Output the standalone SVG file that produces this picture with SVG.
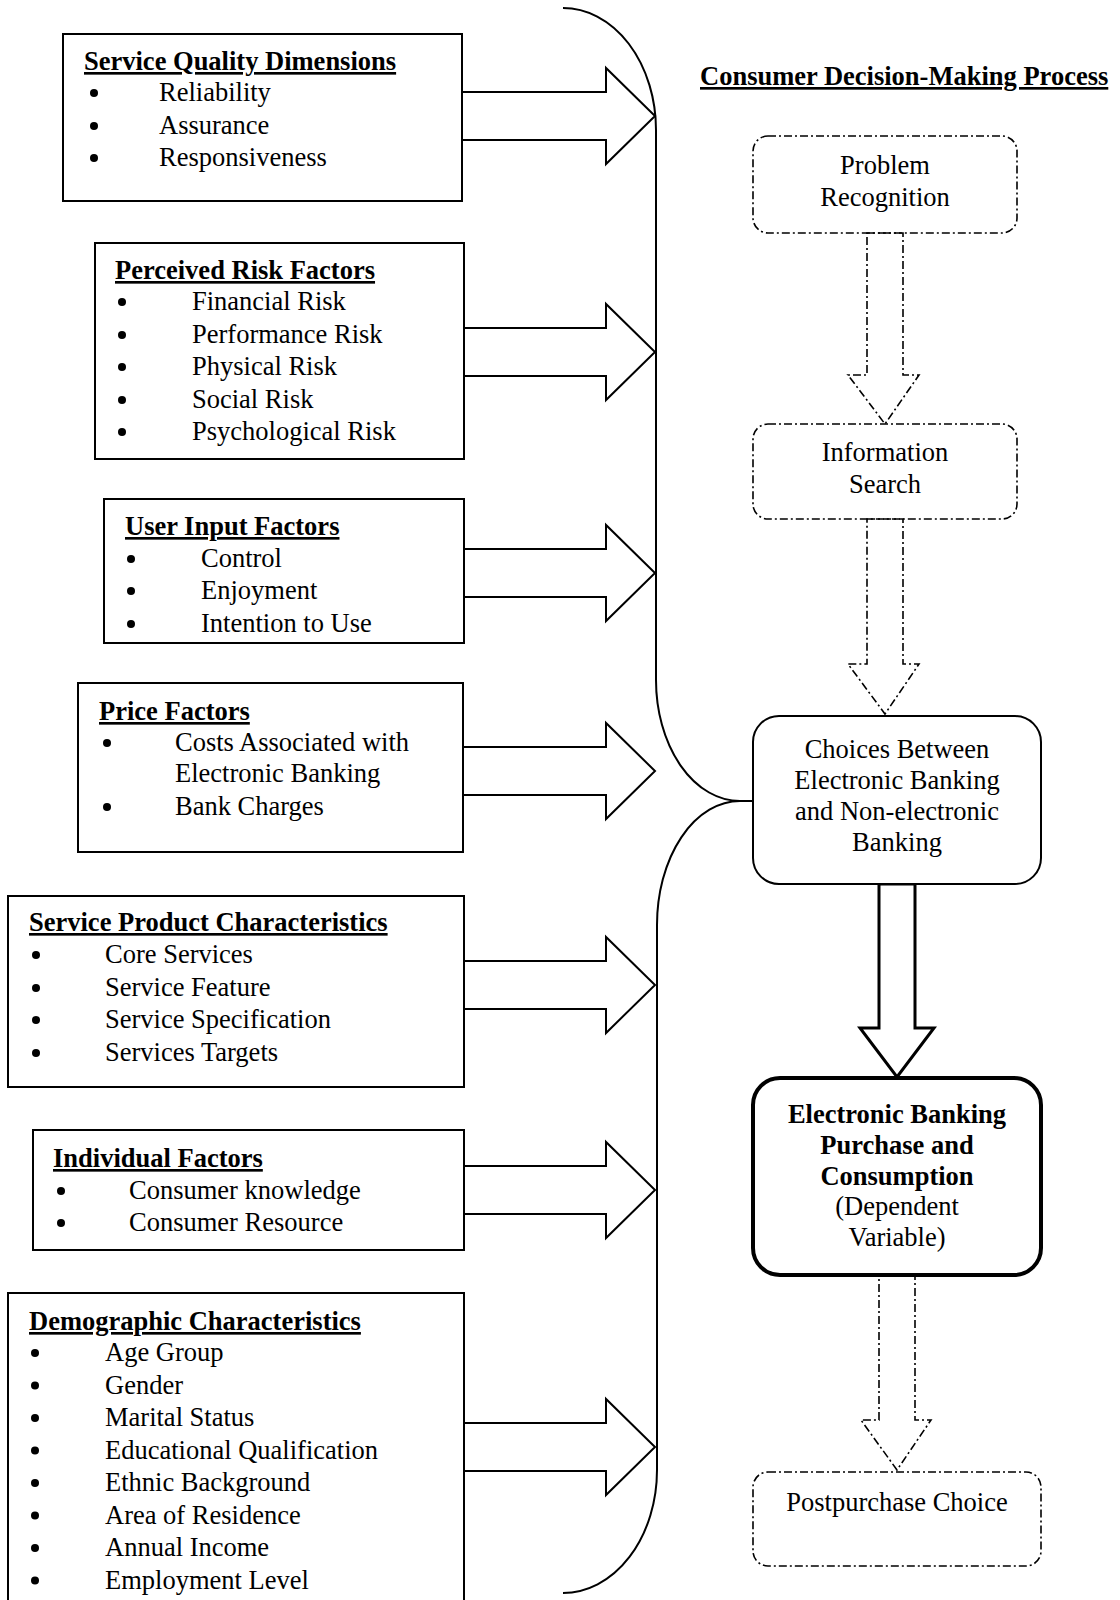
<svg xmlns="http://www.w3.org/2000/svg" width="1120" height="1600" viewBox="0 0 1120 1600">
<style>
.box{fill:#fff;stroke:#000;stroke-width:2}
.t{font-family:"Liberation Serif","Times New Roman",serif;font-size:26.5px;fill:#000}
.h{font-weight:bold;text-decoration:underline;text-decoration-thickness:2px;text-underline-offset:3px}
.b{font-weight:bold}
.c{text-anchor:middle}
.bul{fill:#000}
.arr{fill:#fff;stroke:#000;stroke-width:2}
.dd{fill:none;stroke:#000;stroke-width:1.6;stroke-dasharray:8 3 2 3}
.brk{fill:none;stroke:#000;stroke-width:2}
</style>
<rect width="1120" height="1600" fill="#fff"/>

<g id="connectors">
  <path class="brk" d="M563,8 A93,122 0 0 1 656,130 V680 A84,121 0 0 0 740,801 H753"/>
  <path class="brk" d="M740,801 A83,124 0 0 0 657,925 V1470 A94,123 0 0 1 563,1593"/>
  <path class="arr" d="M463,92 H606 V68 L655,116 L606,164 V140 H463"/>
  <path class="arr" d="M464,328 H606 V304 L655,352 L606,400 V376 H464"/>
  <path class="arr" d="M464,549 H606 V525 L655,573 L606,621 V597 H464"/>
  <path class="arr" d="M463,747 H606 V723 L655,771 L606,819 V795 H463"/>
  <path class="arr" d="M464,961 H606 V937 L655,985 L606,1033 V1009 H464"/>
  <path class="arr" d="M464,1166 H606 V1142 L655,1190 L606,1238 V1214 H464"/>
  <path class="arr" d="M464,1423 H606 V1399 L655,1447 L606,1495 V1471 H464"/>
  <path class="dd" d="M867,233 H903 V375 H919 L885,424 L848,375 H867 Z"/>
  <path class="dd" d="M867,519 H903 V664 H919 L885,714 L848,664 H867 Z"/>
  <path fill="#fff" stroke="#000" stroke-width="3" d="M879,884 H915 V1028 H934 L897,1077 L860,1028 H879 Z"/>
  <path class="dd" d="M879,1276 H915 V1420 H931 L897,1470 L861,1420 H879 Z"/>
</g>

<g id="service-quality">
  <rect class="box" x="63" y="34" width="399" height="167"/>
  <text class="t h" x="84" y="70">Service Quality Dimensions</text>
  <circle class="bul" cx="94" cy="93" r="4"/><text class="t" x="159" y="101">Reliability</text>
  <circle class="bul" cx="94" cy="126" r="4"/><text class="t" x="159" y="134">Assurance</text>
  <circle class="bul" cx="94" cy="158" r="4"/><text class="t" x="159" y="166">Responsiveness</text>
</g>

<g id="perceived-risk">
  <rect class="box" x="95" y="243" width="369" height="216"/>
  <text class="t h" x="115" y="279">Perceived Risk Factors</text>
  <circle class="bul" cx="122" cy="302" r="4"/><text class="t" x="192" y="310">Financial Risk</text>
  <circle class="bul" cx="122" cy="335" r="4"/><text class="t" x="192" y="343">Performance Risk</text>
  <circle class="bul" cx="122" cy="367" r="4"/><text class="t" x="192" y="375">Physical Risk</text>
  <circle class="bul" cx="122" cy="400" r="4"/><text class="t" x="192" y="408">Social Risk</text>
  <circle class="bul" cx="122" cy="432" r="4"/><text class="t" x="192" y="440">Psychological Risk</text>
</g>

<g id="user-input">
  <rect class="box" x="104" y="499" width="360" height="144"/>
  <text class="t h" x="125" y="535">User Input Factors</text>
  <circle class="bul" cx="131" cy="559" r="4"/><text class="t" x="201" y="567">Control</text>
  <circle class="bul" cx="131" cy="591" r="4"/><text class="t" x="201" y="599">Enjoyment</text>
  <circle class="bul" cx="131" cy="624" r="4"/><text class="t" x="201" y="632">Intention to Use</text>
</g>

<g id="price">
  <rect class="box" x="78" y="683" width="385" height="169"/>
  <text class="t h" x="99" y="720">Price Factors</text>
  <circle class="bul" cx="107" cy="743" r="4"/><text class="t" x="175" y="751">Costs Associated with</text>
  <text class="t" x="175" y="782">Electronic Banking</text>
  <circle class="bul" cx="107" cy="807" r="4"/><text class="t" x="175" y="815">Bank Charges</text>
</g>

<g id="service-product">
  <rect class="box" x="8" y="896" width="456" height="191"/>
  <text class="t h" x="29" y="931">Service Product Characteristics</text>
  <circle class="bul" cx="36" cy="955" r="4"/><text class="t" x="105" y="963">Core Services</text>
  <circle class="bul" cx="36" cy="988" r="4"/><text class="t" x="105" y="996">Service Feature</text>
  <circle class="bul" cx="36" cy="1020" r="4"/><text class="t" x="105" y="1028">Service Specification</text>
  <circle class="bul" cx="36" cy="1053" r="4"/><text class="t" x="105" y="1061">Services Targets</text>
</g>

<g id="individual">
  <rect class="box" x="33" y="1130" width="431" height="120"/>
  <text class="t h" x="53" y="1167">Individual Factors</text>
  <circle class="bul" cx="61" cy="1191" r="4"/><text class="t" x="129" y="1199">Consumer knowledge</text>
  <circle class="bul" cx="61" cy="1223" r="4"/><text class="t" x="129" y="1231">Consumer Resource</text>
</g>

<g id="demographic">
  <rect class="box" x="8" y="1293" width="456" height="330"/>
  <text class="t h" x="29" y="1330">Demographic Characteristics</text>
  <circle class="bul" cx="35" cy="1353" r="4"/><text class="t" x="105" y="1361">Age Group</text>
  <circle class="bul" cx="35" cy="1385.5" r="4"/><text class="t" x="105" y="1393.5">Gender</text>
  <circle class="bul" cx="35" cy="1418" r="4"/><text class="t" x="105" y="1426">Marital Status</text>
  <circle class="bul" cx="35" cy="1450.5" r="4"/><text class="t" x="105" y="1458.5">Educational Qualification</text>
  <circle class="bul" cx="35" cy="1483" r="4"/><text class="t" x="105" y="1491">Ethnic Background</text>
  <circle class="bul" cx="35" cy="1515.5" r="4"/><text class="t" x="105" y="1523.5">Area of Residence</text>
  <circle class="bul" cx="35" cy="1548" r="4"/><text class="t" x="105" y="1556">Annual Income</text>
  <circle class="bul" cx="35" cy="1580.5" r="4"/><text class="t" x="105" y="1588.5">Employment Level</text>
</g>

<g id="process-title">
  <text class="t h" x="700" y="85">Consumer Decision-Making Process</text>
</g>

<g id="problem-recognition">
  <rect class="dd" x="753" y="136" width="264" height="97" rx="15"/>
  <text class="t c" x="885" y="174">Problem</text>
  <text class="t c" x="885" y="206">Recognition</text>
</g>

<g id="information-search">
  <rect class="dd" x="753" y="424" width="264" height="95" rx="15"/>
  <text class="t c" x="885" y="461">Information</text>
  <text class="t c" x="885" y="493">Search</text>
</g>

<g id="choices">
  <rect fill="#fff" stroke="#000" stroke-width="2" x="753" y="716" width="288" height="168" rx="26"/>
  <text class="t c" x="897" y="758">Choices Between</text>
  <text class="t c" x="897" y="789">Electronic Banking</text>
  <text class="t c" x="897" y="820">and Non-electronic</text>
  <text class="t c" x="897" y="851">Banking</text>
</g>

<g id="purchase">
  <rect fill="#fff" stroke="#000" stroke-width="4" x="753" y="1078" width="288" height="197" rx="27"/>
  <text class="t c b" x="897" y="1123">Electronic Banking</text>
  <text class="t c b" x="897" y="1154">Purchase and</text>
  <text class="t c b" x="897" y="1185">Consumption</text>
  <text class="t c" x="897" y="1215">(Dependent</text>
  <text class="t c" x="897" y="1246">Variable)</text>
</g>

<g id="postpurchase">
  <rect class="dd" x="753" y="1472" width="288" height="94" rx="15"/>
  <text class="t c" x="897" y="1511">Postpurchase Choice</text>
</g>
</svg>
